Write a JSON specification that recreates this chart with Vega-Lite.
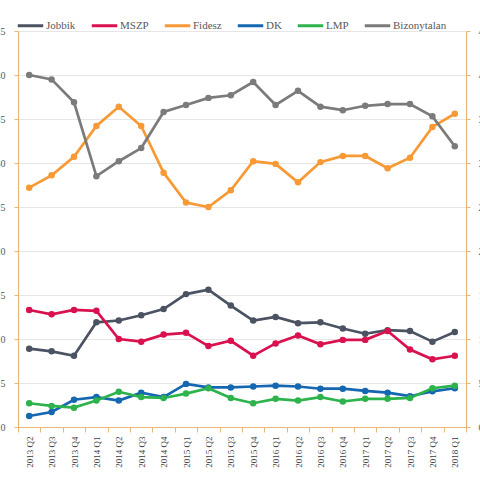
{
  "$schema": "https://vega.github.io/schema/vega-lite/v6.json",
  "width": 448,
  "height": 396,
  "autosize": {"type": "none"},
  "padding": {"left": 18, "top": 31, "right": 14, "bottom": 53},
  "background": "white",
  "config": {
    "view": {"stroke": null},
    "font": "Liberation Serif",
    "axis": {"labelFont": "Liberation Serif", "labelColor": "#595959", "titleFont": "Liberation Serif"},
    "legend": {"labelFont": "Liberation Serif"}
  },
  "datasets": {
    "d": [
      {"q": "2013 Q2", "Jobbik": 8.9, "MSZP": 13.3, "Fidesz": 27.2, "DK": 1.25, "LMP": 2.7, "Bizonytalan": 40.0},
      {"q": "2013 Q3", "Jobbik": 8.6, "MSZP": 12.8, "Fidesz": 28.6, "DK": 1.7, "LMP": 2.4, "Bizonytalan": 39.5},
      {"q": "2013 Q4", "Jobbik": 8.1, "MSZP": 13.3, "Fidesz": 30.7, "DK": 3.1, "LMP": 2.2, "Bizonytalan": 36.9},
      {"q": "2014 Q1", "Jobbik": 11.9, "MSZP": 13.2, "Fidesz": 34.2, "DK": 3.4, "LMP": 3.0, "Bizonytalan": 28.5},
      {"q": "2014 Q2", "Jobbik": 12.1, "MSZP": 10.0, "Fidesz": 36.4, "DK": 3.0, "LMP": 4.0, "Bizonytalan": 30.2},
      {"q": "2014 Q3", "Jobbik": 12.7, "MSZP": 9.7, "Fidesz": 34.2, "DK": 3.9, "LMP": 3.4, "Bizonytalan": 31.7},
      {"q": "2014 Q4", "Jobbik": 13.4, "MSZP": 10.5, "Fidesz": 28.9, "DK": 3.4, "LMP": 3.3, "Bizonytalan": 35.8},
      {"q": "2015 Q1", "Jobbik": 15.1, "MSZP": 10.7, "Fidesz": 25.5, "DK": 4.9, "LMP": 3.8, "Bizonytalan": 36.6},
      {"q": "2015 Q2", "Jobbik": 15.6, "MSZP": 9.2, "Fidesz": 25.0, "DK": 4.5, "LMP": 4.4, "Bizonytalan": 37.4},
      {"q": "2015 Q3", "Jobbik": 13.8, "MSZP": 9.8, "Fidesz": 26.9, "DK": 4.5, "LMP": 3.3, "Bizonytalan": 37.7},
      {"q": "2015 Q4", "Jobbik": 12.1, "MSZP": 8.1, "Fidesz": 30.2, "DK": 4.6, "LMP": 2.7, "Bizonytalan": 39.2},
      {"q": "2016 Q1", "Jobbik": 12.5, "MSZP": 9.5, "Fidesz": 29.9, "DK": 4.7, "LMP": 3.2, "Bizonytalan": 36.6},
      {"q": "2016 Q2", "Jobbik": 11.8, "MSZP": 10.4, "Fidesz": 27.8, "DK": 4.6, "LMP": 3.0, "Bizonytalan": 38.2},
      {"q": "2016 Q3", "Jobbik": 11.9, "MSZP": 9.4, "Fidesz": 30.1, "DK": 4.35, "LMP": 3.4, "Bizonytalan": 36.4},
      {"q": "2016 Q4", "Jobbik": 11.2, "MSZP": 9.9, "Fidesz": 30.8, "DK": 4.35, "LMP": 2.9, "Bizonytalan": 36.0},
      {"q": "2017 Q1", "Jobbik": 10.6, "MSZP": 9.9, "Fidesz": 30.8, "DK": 4.1, "LMP": 3.2, "Bizonytalan": 36.5},
      {"q": "2017 Q2", "Jobbik": 11.0, "MSZP": 10.9, "Fidesz": 29.4, "DK": 3.9, "LMP": 3.2, "Bizonytalan": 36.7},
      {"q": "2017 Q3", "Jobbik": 10.9, "MSZP": 8.8, "Fidesz": 30.6, "DK": 3.5, "LMP": 3.3, "Bizonytalan": 36.7},
      {"q": "2017 Q4", "Jobbik": 9.7, "MSZP": 7.7, "Fidesz": 34.1, "DK": 4.05, "LMP": 4.4, "Bizonytalan": 35.3},
      {"q": "2018 Q1", "Jobbik": 10.8, "MSZP": 8.1, "Fidesz": 35.6, "DK": 4.4, "LMP": 4.7, "Bizonytalan": 31.9}
    ]
  },
  "data": {"name": "d"},
  "layer": [
    {
      "transform": [{"fold": ["Jobbik", "MSZP", "Fidesz", "DK", "LMP", "Bizonytalan"], "as": ["party", "value"]}],
      "mark": {"type": "line", "strokeWidth": 2.7, "point": {"filled": true, "size": 42}},
      "encoding": {
        "x": {
          "field": "q", "type": "ordinal",
          "scale": {"type": "band", "paddingInner": 0, "paddingOuter": 0},
          "axis": {
            "title": null, "labelAngle": -90, "labelFontSize": 9, "labelColor": "#404040",
            "domainColor": "#e8b878", "domainWidth": 1.2, "tickColor": "#e8b878", "tickSize": 5,
            "tickBand": "extent", "labelPadding": 4
          }
        },
        "y": {
          "field": "value", "type": "quantitative",
          "scale": {"domain": [0, 45], "nice": false},
          "axis": {
            "title": null, "values": [0, 5, 10, 15, 20, 25, 30, 35, 40, 45], "labelFontSize": 10,
            "domainColor": "#e8b878", "domainWidth": 1.2, "tickColor": "#e8b878", "tickSize": 4,
            "labelPadding": 9, "gridColor": "#e6e6e6", "gridWidth": 1.2
          }
        },
        "color": {
          "field": "party", "type": "nominal",
          "scale": {
            "domain": ["Jobbik", "MSZP", "Fidesz", "DK", "LMP", "Bizonytalan"],
            "range": ["#4b5262", "#d9114f", "#f79a36", "#1467b0", "#2db34b", "#7b7b7b"]
          },
          "legend": {
            "title": null, "orient": "none", "direction": "horizontal", "legendX": -2, "legendY": -20,
            "symbolType": "stroke", "symbolSize": 650, "symbolStrokeWidth": 3,
            "labelFontSize": 11, "labelColor": "#595959", "labelOffset": 1, "columnPadding": 9
          }
        }
      }
    },
    {
      "mark": {"type": "point", "opacity": 0},
      "encoding": {
        "x": {"field": "q", "type": "ordinal", "scale": {"type": "band", "paddingInner": 0, "paddingOuter": 0}},
        "y": {
          "field": "Jobbik", "type": "quantitative",
          "scale": {"domain": [0, 45], "nice": false},
          "axis": {
            "orient": "right", "title": null, "grid": false, "values": [0, 5, 10, 15, 20, 25, 30, 35, 40, 45],
            "labelFontSize": 10, "domainColor": "#e8b878", "domainWidth": 1.2, "tickColor": "#e8b878",
            "tickSize": 4, "labelPadding": 8
          }
        }
      }
    }
  ],
  "resolve": {"scale": {"y": "independent"}}
}
